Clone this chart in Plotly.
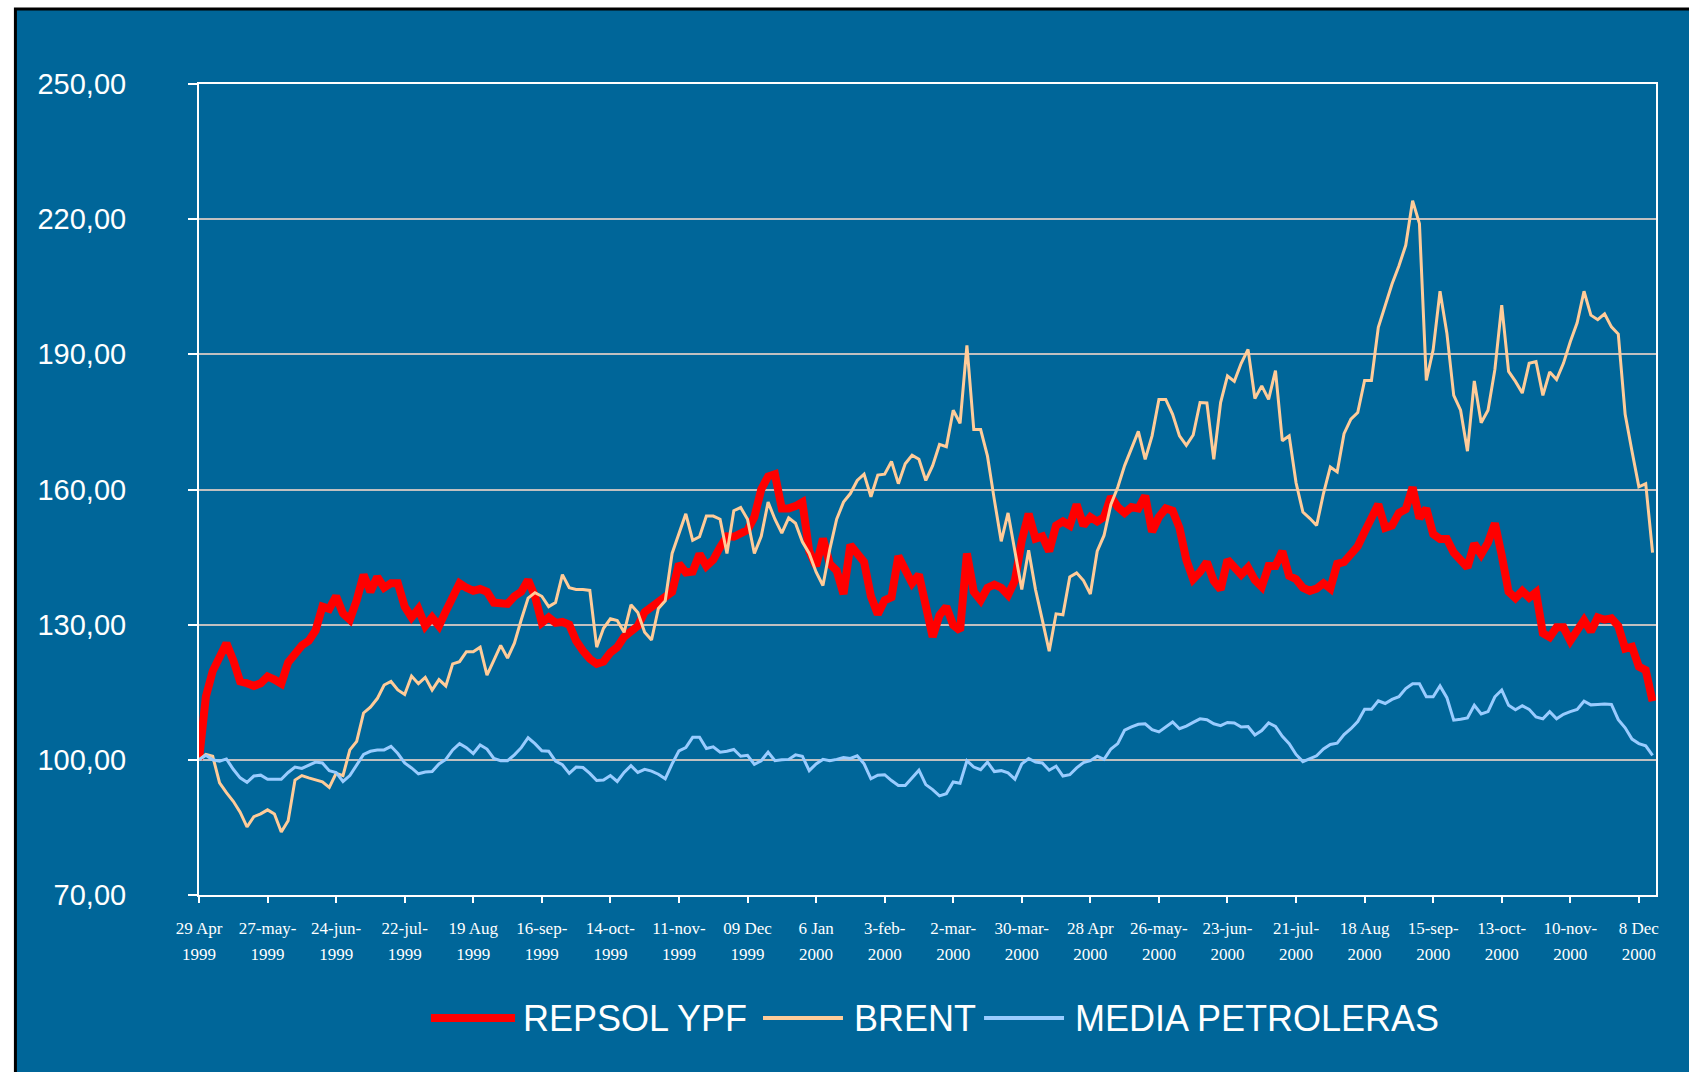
import plotly.graph_objects as go

BG = "#006699"

# trading-session index counted from 29 Apr 1999 (every second session)
day = list(range(0, 426, 2))

repsol = [
    100, 114, 119.7, 122.6, 125.9, 122.1, 117.4, 117, 116.4, 117, 118.5, 117.8,
    116.9, 121.6, 123.5, 125.4, 126.4, 128.7, 134, 133.5, 136.3, 132.5, 131.1, 135.4,
    141.1, 137.3, 140.6, 138.2, 139.2, 139.2, 134, 131.6, 133.5, 129.7, 131.6, 129.7,
    133, 136.6, 139.2, 138.2, 137.5, 137.9, 137.3, 134.9, 134.9, 134.6, 136.3, 137.3,
    139.9, 136.3, 130.4, 131.6, 130.4, 130.6, 130, 126.4, 124.2, 122.4, 121.3, 121.8,
    123.8, 125, 127.3, 128.3, 129.7, 132.8, 134, 135.1, 136.1, 137.3, 143.5, 141.6,
    141.8, 145.7, 143, 144.4, 147.2, 149.6, 149.5, 150.1, 151, 153.9, 160, 162.9,
    163.4, 155.8, 155.8, 156.3, 157.2, 146.3, 143, 149.1, 143.5, 142, 136.8, 147.7,
    145.4, 143.9, 136.3, 132.3, 135.4, 136.1, 145.2, 142.5, 139.2, 141.1, 134.9, 127.3,
    132.1, 134, 129.9, 128.7, 145.8, 137.3, 135.4, 138.2, 138.9, 138.2, 136.6, 139.8,
    148.7, 154.6, 149.1, 149.6, 146.3, 152, 152.9, 152, 156.7, 152, 153.9, 152.9,
    153.9, 158.4, 156.1, 154.8, 156.1, 155.8, 158.6, 150.6, 153.9, 155.8, 155.3, 151.5,
    144.4, 140.1, 141.7, 143.9, 139.7, 137.8, 144.4, 142.5, 141.1, 142.7, 139.9, 138.4,
    143, 143, 146.3, 140.8, 140.1, 138.2, 137.5, 138, 139.2, 138, 143.5, 143.9,
    145.4, 147.4, 150.6, 153.9, 156.7, 151.5, 152, 154.8, 155.6, 160.5, 153.6, 155.8,
    150.1, 149, 149, 146, 144.5, 142.7, 148, 145.6, 148.2, 152.5, 145.4, 137.3,
    135.9, 137.5, 136, 137.2, 128.1, 127.2, 129.4, 129.4, 126.4, 128.5, 131, 128.5,
    131.6, 131.1, 131.4, 129.7, 124.7, 125.1, 120.7, 119.9, 113,
]

brent = [
    100, 101.2, 100.8, 94.9, 92.7, 90.8, 88.4, 85.1, 87.4, 88, 88.9, 88,
    84, 86.5, 95.5, 96.5, 96, 95.5, 95.1, 93.9, 97, 96.5, 102.2, 104.1,
    110.4, 111.7, 113.6, 116.6, 117.4, 115.5, 114.5, 118.6, 116.9, 118.3, 115.5, 117.8,
    116.4, 121.3, 121.8, 124, 124, 125, 118.8, 122.1, 125.4, 122.6, 125.9, 131.1,
    135.9, 137.1, 136.3, 134, 134.9, 141.1, 138.2, 137.8, 137.8, 137.6, 125, 129.2,
    131.3, 130.9, 128.3, 134.4, 132.7, 128.3, 126.6, 133.6, 135.3, 145.8, 150, 154.6,
    148.7, 149.5, 154.1, 154.1, 153.4, 145.8, 155.3, 156, 153.4, 145.8, 149.6, 157.2,
    153.4, 150.3, 153.7, 152.5, 148.4, 145.8, 141.7, 138.7, 146.7, 153.4, 157.2, 159.1,
    162, 163.4, 158.4, 163.2, 163.4, 166.2, 161.3, 165.7, 167.6, 166.7, 162, 165.3,
    170, 169.5, 177.6, 174.7, 192, 173.3, 173.3, 167.4, 157.7, 148.5, 154.8, 146.3,
    137.8, 146.5, 137.8, 131, 124.1, 132.4, 132.2, 140.6, 141.5, 139.8, 136.8, 146.3,
    149.8, 156.7, 160.5, 165.3, 169.1, 172.9, 166.7, 171.9, 180, 180, 176.7, 171.9,
    169.8, 172.1, 179.3, 179.2, 166.7, 179.3, 185.2, 184, 188, 191.1, 180.2, 183,
    180, 186.4, 170.8, 171.9, 161.5, 155, 153.6, 152, 159.1, 165, 163.9, 172.4,
    175.6, 177.1, 184.2, 184.2, 196, 200.6, 205.6, 209.6, 214.2, 224.1, 219, 184.2,
    191, 204, 194.7, 180.9, 177.6, 168.5, 184.1, 174.8, 177.6, 186.6, 200.9, 186.2,
    184, 181.4, 188, 188.4, 180.9, 186.1, 184.4, 188, 192.8, 197, 204, 198.7,
    197.7, 199, 196.1, 194.5, 176.7, 168.5, 160.6, 161.3, 146,
]

media = [
    100, 101, 100, 99.7, 100.2, 97.9, 96, 95, 96.4, 96.6, 95.7, 95.7,
    95.7, 97.2, 98.4, 98.1, 98.8, 99.5, 99.3, 97.6, 97.2, 95.2, 96.5, 98.8,
    101.2, 101.9, 102.2, 102.2, 103, 101.4, 99.3, 98.2, 96.9, 97.3, 97.4, 99.1,
    100.1, 102.2, 103.6, 102.7, 101.4, 103.3, 102.4, 100.3, 99.8, 99.8, 101.1, 102.7,
    104.9, 103.6, 102, 101.9, 99.7, 98.9, 97, 98.4, 98.3, 97, 95.4, 95.5,
    96.5, 95.2, 97.2, 98.7, 97.2, 97.9, 97.5, 96.8, 95.8, 99.1, 102, 102.7,
    105, 105, 102.5, 102.9, 101.7, 101.9, 102.3, 100.8, 101, 99, 99.8, 101.7,
    99.8, 100, 100.1, 101.1, 100.8, 97.6, 99.1, 100.1, 99.8, 100.1, 100.5, 100.3,
    100.9, 99.1, 95.8, 96.6, 96.7, 95.4, 94.3, 94.3, 96, 97.7, 94.5, 93.4,
    92, 92.5, 95.1, 94.8, 99.8, 98.4, 97.8, 99.5, 97.4, 97.6, 97.1, 95.7,
    99.1, 100.3, 99.5, 99.3, 97.7, 98.6, 96.4, 96.7, 98.2, 99.4, 99.8, 100.8,
    100.1, 102.4, 103.6, 106.6, 107.3, 107.9, 108, 106.7, 106.2, 107.4, 108.4, 106.9,
    107.5, 108.3, 109.1, 108.9, 108, 107.6, 108.3, 108.2, 107.3, 107.4, 105.5, 106.5,
    108.2, 107.4, 105.2, 103.6, 101.2, 99.6, 100.3, 100.9, 102.4, 103.4, 103.7, 105.6,
    106.9, 108.5, 111.2, 111.2, 113.1, 112.5, 113.4, 114, 115.8, 116.9, 116.9, 114,
    114, 116.4, 113.8, 108.8, 109, 109.3, 112.1, 110.2, 110.7, 114, 115.5, 112.1,
    111.1, 112, 111.2, 109.5, 109.1, 110.7, 109.1, 110.1, 110.7, 111.2, 113, 112.2,
    112.3, 112.4, 112.3, 108.9, 107.1, 104.6, 103.6, 103.1, 101,
]

tick_days = list(range(0, 421, 20))
tick_dates = [
    "29 Apr", "27-may-", "24-jun-", "22-jul-", "19 Aug", "16-sep-", "14-oct-",
    "11-nov-", "09 Dec", "6 Jan", "3-feb-", "2-mar-", "30-mar-", "28 Apr",
    "26-may-", "23-jun-", "21-jul-", "18 Aug", "15-sep-", "13-oct-", "10-nov-",
    "8 Dec",
]
tick_years = ["1999"] * 9 + ["2000"] * 13

y_ticks = [70, 100, 130, 160, 190, 220, 250]
y_labels = ["70,00", "100,00", "130,00", "160,00", "190,00", "220,00", "250,00"]

series_names = ["REPSOL YPF", "BRENT", "MEDIA PETROLERAS"]
series_colors = ["#FF0000", "#FFCC99", "#99CCFF"]

fig = go.Figure()
fig.add_trace(go.Scatter(x=day, y=repsol, mode="lines", name=series_names[0],
                         line=dict(color=series_colors[0], width=8)))
fig.add_trace(go.Scatter(x=day, y=brent, mode="lines", name=series_names[1],
                         line=dict(color=series_colors[1], width=3)))
fig.add_trace(go.Scatter(x=day, y=media, mode="lines", name=series_names[2],
                         line=dict(color=series_colors[2], width=3)))
# empty trace so the year axis gets drawn
fig.add_trace(go.Scatter(x=[], y=[], xaxis="x2", showlegend=False, hoverinfo="skip"))

# blue panel with black frame (paper coords, plot area = 199..1656 x 84..895 px)
fig.add_shape(type="rect", xref="paper", yref="paper",
              x0=-0.126, y0=-0.25, x1=1.05, y1=1.0925,
              fillcolor=BG, line=dict(color="black", width=3), layer="below")

# custom legend
leg_y = -0.1517
leg_items = [
    (0.1592, 0.2169, 0.221, 8),
    (0.3871, 0.4420, 0.4482, 4),
    (0.5388, 0.5937, 0.5999, 4),
]
for (x0, x1, xt, w), name, col in zip(leg_items, series_names, series_colors):
    fig.add_shape(type="line", xref="paper", yref="paper",
                  x0=x0, x1=x1, y0=leg_y, y1=leg_y,
                  line=dict(color=col, width=w))
    fig.add_annotation(x=xt, y=leg_y, xref="paper", yref="paper", text=name,
                       showarrow=False, xanchor="left", yanchor="middle",
                       font=dict(family="Liberation Sans", size=36, color="white"))

fig.update_layout(
    width=1689, height=1072,
    margin=dict(l=199, r=33, t=84, b=177),
    paper_bgcolor="white",
    plot_bgcolor=BG,
    showlegend=False,
    hovermode=False,
    xaxis=dict(range=[0, 425], tickmode="array", tickvals=tick_days, ticktext=tick_dates,
               tickangle=0, ticks="outside", ticklen=6, tickwidth=1.5, tickcolor="white",
               showgrid=False, zeroline=False, showline=True, linecolor="white",
               linewidth=2, mirror=True, ticklabelstandoff=11,
               tickfont=dict(family="Liberation Serif", size=17, color="white")),
    xaxis2=dict(range=[0, 425], overlaying="x", side="bottom", tickmode="array",
                tickvals=tick_days, ticktext=tick_years, tickangle=0,
                ticks="outside", ticklen=6, tickcolor="rgba(0,0,0,0)",
                showgrid=False, zeroline=False, showline=False, ticklabelstandoff=38,
                tickfont=dict(family="Liberation Serif", size=17, color="white")),
    yaxis=dict(range=[70, 250], tickmode="array", tickvals=y_ticks, ticktext=y_labels,
               ticks="outside", ticklen=9, tickwidth=1.5, tickcolor="white",
               showgrid=True, gridcolor="#C0C0C0", gridwidth=1.5, zeroline=False,
               showline=True, linecolor="white", linewidth=2, mirror=True,
               ticklabelstandoff=56,
               tickfont=dict(family="Liberation Sans", size=29, color="white")),
)

fig.write_html("out.html", config={"displayModeBar": False},
               post_script="document.body.style.margin='0px';")
